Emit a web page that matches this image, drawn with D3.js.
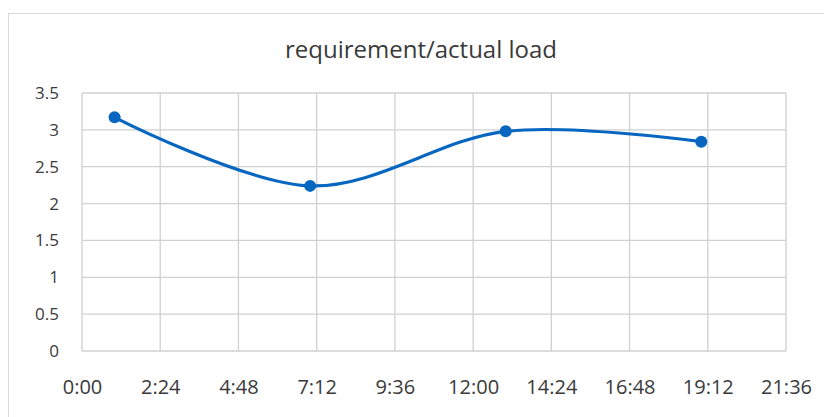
<!DOCTYPE html>
<html><head><meta charset="utf-8">
<script src="https://cdn.jsdelivr.net/npm/d3@7"></script>
<style>body{margin:0;background:#fff}svg{display:block}text{font-family:"Open Sans",sans-serif;fill:#3a3a3a}</style>
</head><body>
<script>
const title = "requirement/actual load";
const hours = [1, 7, 13, 19];
const values = [3.17, 2.24, 2.98, 2.84];
const xTickHours = [0, 2.4, 4.8, 7.2, 9.6, 12, 14.4, 16.8, 19.2, 21.6];
const xTickLabels = ["0:00","2:24","4:48","7:12","9:36","12:00","14:24","16:48","19:12","21:36"];
const yTicks = [0, 0.5, 1, 1.5, 2, 2.5, 3, 3.5];

const W = 824, H = 417;
const svg = d3.select("body").append("svg").attr("width", W).attr("height", H);
svg.append("rect").attr("x", 8.5).attr("y", 13.5).attr("width", W + 10).attr("height", H + 10)
  .attr("fill", "#fff").attr("stroke", "#d9d9d9");

const L = 82, R = 786, T = 93, B = 351;
const x = d3.scaleLinear().domain([0, 21.6]).range([L, R]);
const y = d3.scaleLinear().domain([0, 3.5]).range([B, T]);

const grid = svg.append("g").attr("stroke", "#d0d0d0").attr("stroke-width", 1.3);
yTicks.forEach(v => grid.append("line").attr("x1", L).attr("x2", R).attr("y1", y(v)).attr("y2", y(v)));
xTickHours.forEach(v => grid.append("line").attr("y1", T).attr("y2", B).attr("x1", x(v)).attr("x2", x(v)));

const yAxis = d3.axisLeft(y).tickValues(yTicks).tickSize(0).tickPadding(23).tickFormat(d3.format(""));
const gy = svg.append("g").attr("transform", `translate(${L},0)`).call(yAxis);
gy.select(".domain").remove();
gy.selectAll("text").style("font-size", "17px").attr("fill", "#3a3a3a");

const xAxis = d3.axisBottom(x).tickValues(xTickHours).tickSize(0)
  .tickFormat((d, i) => xTickLabels[i]);
const gx = svg.append("g").attr("transform", `translate(0,${B})`).call(xAxis);
gx.select(".domain").remove();
gx.selectAll("text").style("font-size", "20px").attr("fill", "#3a3a3a").attr("dy", null).attr("y", 43);

svg.append("text").attr("x", 421).attr("y", 58).attr("text-anchor", "middle")
  .style("font-size", "24px").attr("textLength", 272).attr("lengthAdjust", "spacingAndGlyphs").text(title);

const pts = hours.map((h, i) => [h, values[i]]);
const line = d3.line().x(d => x(d[0])).y(d => y(d[1])).curve(d3.curveCardinal.tension(0));
svg.append("path").datum(pts).attr("d", line).attr("fill", "none")
  .attr("stroke", "#0766c0").attr("stroke-width", 3.2).attr("stroke-linecap", "round");
svg.selectAll("circle.pt").data(pts).enter().append("circle")
  .attr("cx", d => x(d[0])).attr("cy", d => y(d[1])).attr("r", 6).attr("fill", "#0766c0");
</script>
</body></html>
